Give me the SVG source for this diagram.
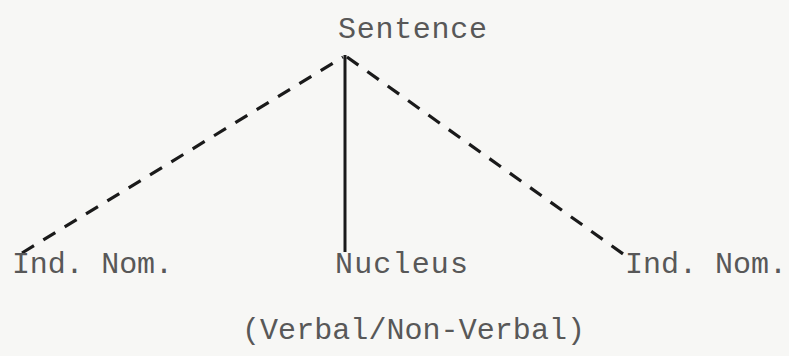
<svg xmlns="http://www.w3.org/2000/svg" width="789" height="356" viewBox="0 0 789 356">
<style>
.t{font-family:"Liberation Mono","DejaVu Sans Mono",monospace;font-size:30px;fill:#585858}
.dash{stroke:#1a1a1a;stroke-width:3.2;stroke-dasharray:14 11;fill:none;stroke-linecap:butt}
.solid{stroke:#1a1a1a;stroke-width:3;fill:none}
</style>
<rect width="789" height="356" fill="#f7f7f5"/>
<g id="connectors">
<line class="dash" x1="22" y1="253" x2="343" y2="57"/>
<line class="solid" x1="345" y1="55" x2="345" y2="252"/>
<line class="dash" x1="347" y1="57" x2="626" y2="256"/>
</g>
<g id="sentence"><text class="t" x="338" y="38" textLength="149">Sentence</text></g>
<g id="ind-nom-left"><text class="t" x="12" y="273" textLength="161">Ind. Nom.</text></g>
<g id="nucleus"><text class="t" x="335" y="273" textLength="133">Nucleus</text></g>
<g id="ind-nom-right"><text class="t" x="625" y="273" textLength="162">Ind. Nom.</text></g>
<g id="nucleus-label"><text class="t" x="242" y="339" textLength="343">(Verbal/Non-Verbal)</text></g>
</svg>
